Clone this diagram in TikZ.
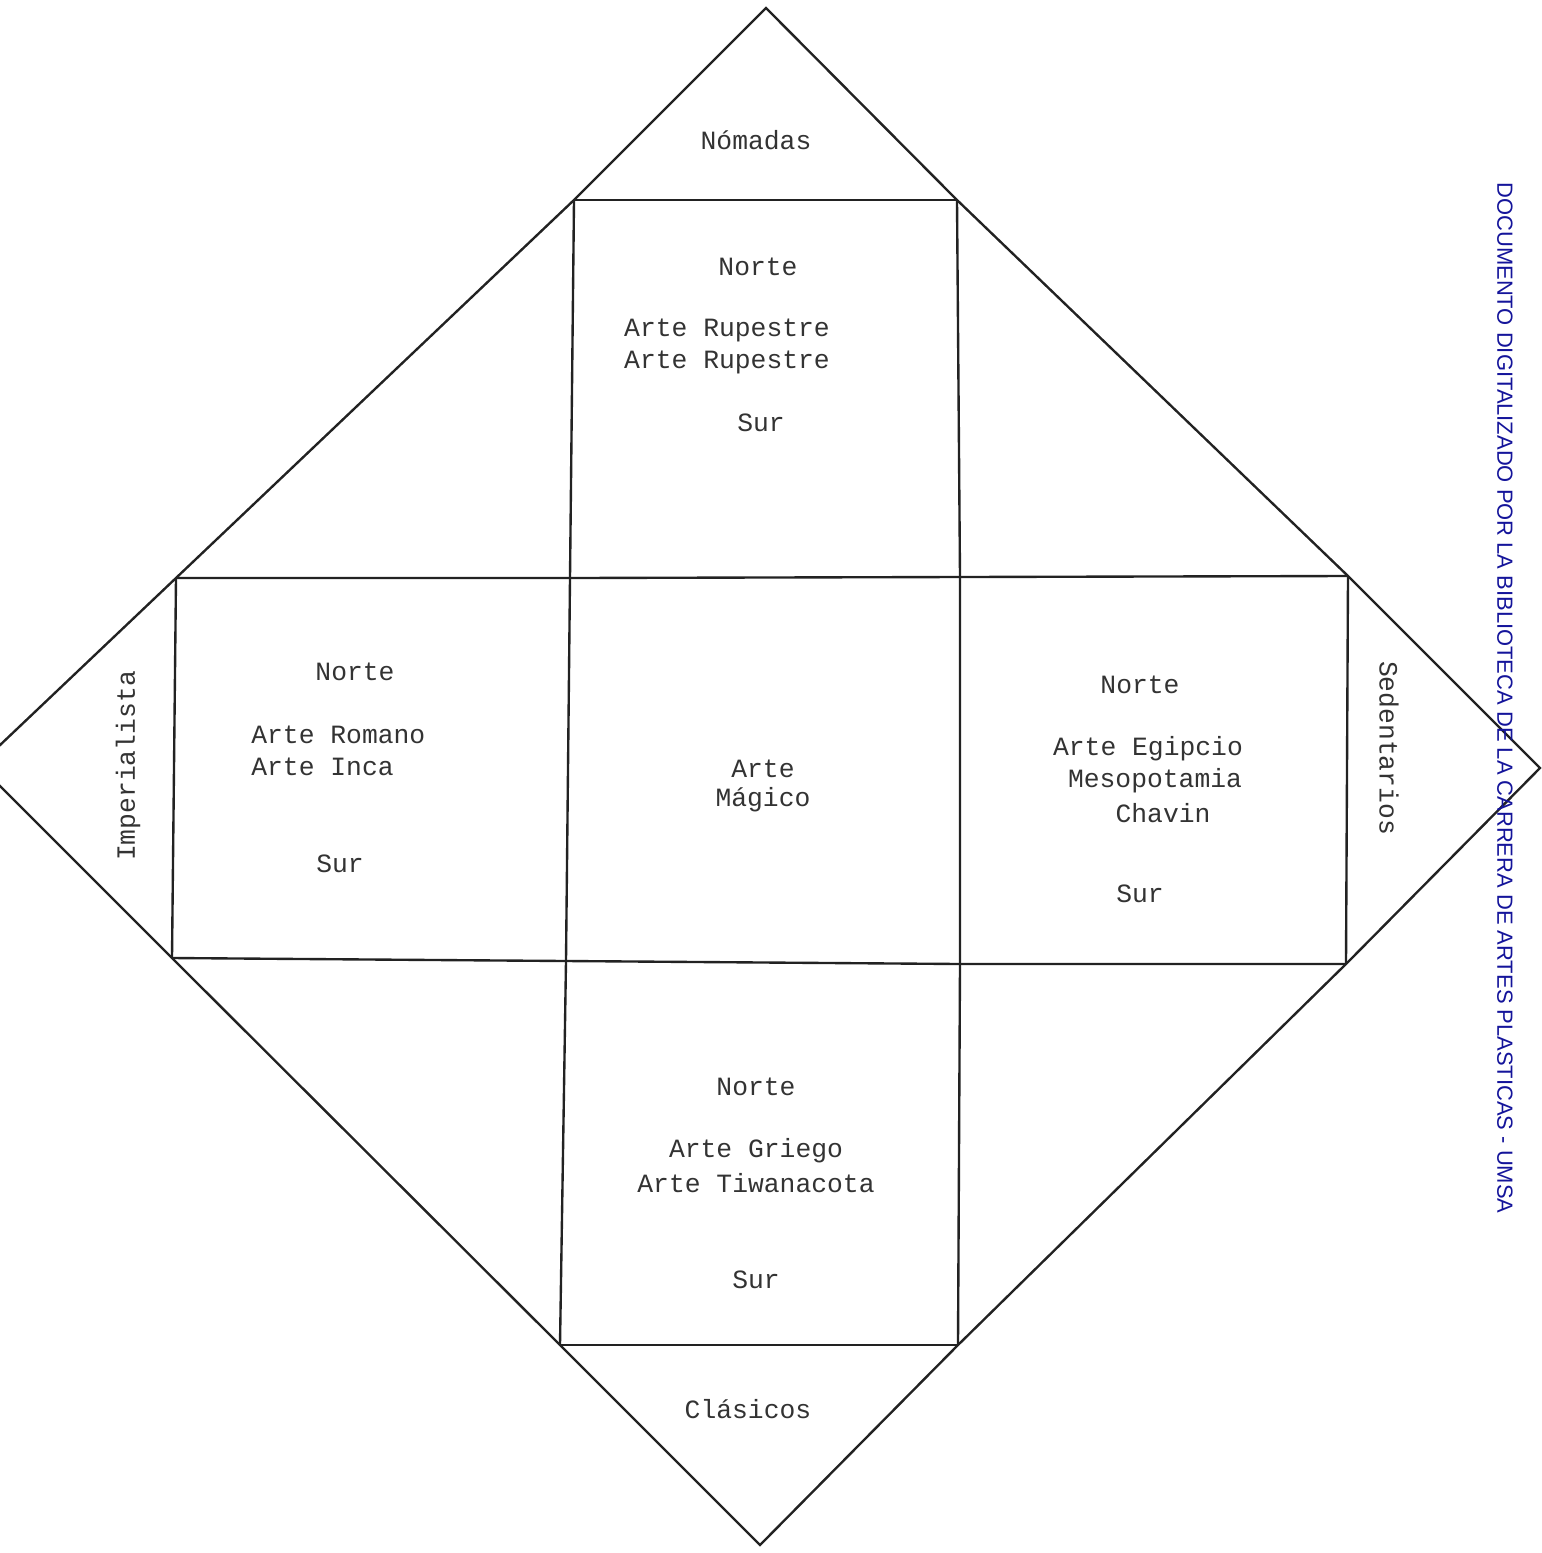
\documentclass[tikz,border=0pt]{standalone}
\usepackage{fontspec}
\setmainfont{Liberation Serif}
\newfontfamily\typew{Liberation Mono}
\newfontfamily\stampfont{Liberation Sans}
\definecolor{ink}{HTML}{222222}
\definecolor{txt}{HTML}{333333}
\definecolor{stamp}{HTML}{14149A}
\begin{document}
\begin{tikzpicture}[x=0.02cm,y=-0.02cm,
  edge/.style={draw=ink,line width=1.35pt,line join=miter},
  lbl/.style={text=txt,font=\typew\fontsize{15}{18}\selectfont,inner sep=0pt,anchor=center},
  lbll/.style={lbl,anchor=west}]
\useasboundingbox (0,0) rectangle (1542,1553);
\clip (0,0) rectangle (1542,1553);
% grid corners
\coordinate (T) at (766,8);
\coordinate (L) at (-21,765);
\coordinate (R) at (1540,768);
\coordinate (B) at (760,1545);
\coordinate (a1) at (574,200);  \coordinate (a2) at (957,200);
\coordinate (b0) at (176,578);  \coordinate (b1) at (570,578); \coordinate (b2) at (960,577); \coordinate (b3) at (1348,576);
\coordinate (c0) at (172,958);  \coordinate (c1) at (566,961); \coordinate (c2) at (960,964); \coordinate (c3) at (1346,964);
\coordinate (d1) at (560,1345); \coordinate (d2) at (958,1345);
% outer diamond
\draw[edge] (T) -- (a2) -- (b3) -- (R) -- (c3) -- (d2) -- (B) -- (d1) -- (c0) -- (L) -- (b0) -- (a1) -- cycle;
% grid
\draw[edge] (a1) -- (a2);
\draw[edge] (b0) -- (b1) -- (b2) -- (b3);
\draw[edge] (c0) -- (c1) -- (c2) -- (c3);
\draw[edge] (d1) -- (d2);
\draw[edge] (a1) -- (b1) -- (c1) -- (d1);
\draw[edge] (a2) -- (b2) -- (c2) -- (d2);
\draw[edge] (b0) -- (c0);
\draw[edge] (b3) -- (c3);
% labels
\node[lbl] (nom) at (756,140) {Nómadas};
\node[lbl] (tn) at (758,267) {Norte};
\node[lbl] (tr1) at (727,330) {Arte Rupestre};
\node[lbl] (tr2) at (727,362) {Arte Rupestre};
\node[lbl] (ts) at (761,423) {Sur};
\node[lbl] (ln) at (355,672) {Norte};
\node[lbll] (lr1) at (251,735) {Arte Romano};
\node[lbll] (lr2) at (251,767) {Arte Inca};
\node[lbl] (ls) at (340,864) {Sur};
\node[lbl] (c1t) at (763,769) {Arte};
\node[lbl] (c2t) at (763,800) {Mágico};
\node[lbl] (rn) at (1140,685) {Norte};
\node[lbl] (re1) at (1148,749) {Arte Egipcio};
\node[lbl] (re2) at (1155,781) {Mesopotamia};
\node[lbl] (re3) at (1163,813) {Chavin};
\node[lbl] (rs) at (1140,894) {Sur};
\node[lbl] (bn) at (756,1087) {Norte};
\node[lbl] (bg1) at (756,1151) {Arte Griego};
\node[lbl] (bg2) at (756,1183) {Arte Tiwanacota};
\node[lbl] (bs) at (756,1280) {Sur};
\node[lbl] (cla) at (748,1409) {Clásicos};
\node[lbl,rotate=90] (imp) at (128,766) {Imperialista};
\node[lbl,rotate=-90] (sed) at (1389,748) {Sedentarios};
\node[text=stamp,font=\stampfont\fontsize{12.5}{14}\selectfont,inner sep=0pt,rotate=-90] (doc) at (1505,698)
  {DOCUMENTO DIGITALIZADO POR LA BIBLIOTECA DE LA CARRERA DE ARTES PLASTICAS - UMSA};
\end{tikzpicture}
\end{document}
